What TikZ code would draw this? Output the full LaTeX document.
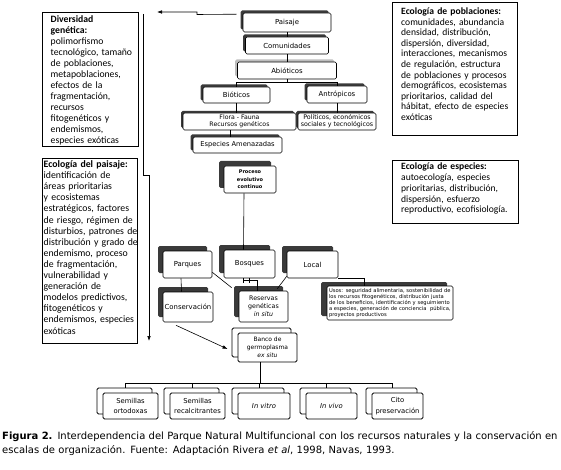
\documentclass[tikz,border=0pt]{standalone}
\usepackage{fontspec}
\newfontfamily\djvfont{DejaVu Sans}
\newfontfamily\carfont{Carlito}
\usetikzlibrary{shadows,arrows.meta,calc}
\definecolor{shd}{HTML}{3A3A3A}
\definecolor{lshd}{HTML}{BDBDBD}
\begin{document}
\begin{tikzpicture}[x=1pt,y=-1pt,
  nb/.style={draw=black, fill=white, rounded corners=1.5pt, line width=0.6pt, inner sep=0pt, align=center},
  sh/.style={drop shadow={shadow xshift=-#1, shadow yshift=#1, fill=shd, opacity=1}},
  lsh/.style={drop shadow={shadow xshift=-#1, shadow yshift=#1, fill=lshd, opacity=1}},
  cs/.style={copy shadow={shadow xshift=-6pt, shadow yshift=5pt}},
  ta/.style={font=\djvfont\fontsize{6.9}{8}\selectfont},
  tb/.style={font=\djvfont\fontsize{6.9}{8}\selectfont},
  tc/.style={font=\djvfont\fontsize{6.8}{10.5}\selectfont},
  panel/.style={draw=black, line width=0.8pt, inner sep=0pt, anchor=north west},
  ptxt/.style={inner sep=0pt, anchor=north west, align=left, text width=140pt},
  conn/.style={draw=black, line width=0.6pt},
  tree/.style={draw=black, line width=1pt},
  arr/.style={-{Latex[length=5pt,width=3.6pt]}}
]
\useasboundingbox (0,0) rectangle (561,470);
\fill[white] (0,0) rectangle (561,470);

% ---------- side panels ----------
\node[panel, minimum width=96pt, minimum height=134pt] (div) at (42,12) {};
\node[ptxt, font=\carfont\fontsize{9.7}{11}\selectfont] (divt) at (50.5,15)
 {\textbf{Diversidad\\genética:}\\polimorfismo\\tecnológico, tamaño\\de poblaciones,\\metapoblaciones,\\efectos de la\\fragmentación,\\recursos\\fitogenéticos y\\endemismos,\\especies exóticas};

\node[panel, minimum width=95pt, minimum height=185pt] (pai) at (42,158) {};
\node[ptxt, font=\carfont\fontsize{9.8}{11.1}\selectfont] (pait) at (43.5,160.5)
 {\textbf{Ecología del paisaje:}\\identificación de\\áreas prioritarias\\y ecosistemas\\estratégicos, factores\\de riesgo, régimen de\\disturbios, patrones de\\distribución y grado de\\endemismo, proceso\\de fragmentación,\\vulnerabilidad y\\generación de\\modelos predictivos,\\fitogenéticos y\\endemismos, especies\\exóticas};

\node[panel, minimum width=125pt, minimum height=133pt] (pob) at (392,2) {};
\node[ptxt, font=\carfont\fontsize{9.6}{10.6}\selectfont] (pobt) at (401,7.5)
 {\textbf{Ecología de poblaciones:}\\comunidades, abundancia\\densidad, distribución,\\dispersión, diversidad,\\interacciones, mecanismos\\de regulación, estructura\\de poblaciones y procesos\\demográficos, ecosistemas\\prioritarios, calidad del\\hábitat, efecto de especies\\exóticas};

\node[panel, minimum width=126pt, minimum height=63pt] (esq) at (392,160) {};
\node[ptxt, font=\carfont\fontsize{9.6}{10.75}\selectfont] (esqt) at (401,163)
 {\textbf{Ecología de especies:}\\autoecología, especies\\prioritarias, distribución,\\dispersión, esfuerzo\\reproductivo, ecofisiología.};

% ---------- top chain ----------
\node[nb, sh=2.5pt, ta, minimum width=88pt, minimum height=19pt] (pais) at (287,22.5) {Paisaje};
\node[nb, sh=2.5pt, ta, minimum width=83pt, minimum height=17pt] (com) at (287,45.5) {Comunidades};
\node[nb, lsh=2.5pt, ta, minimum width=99pt, minimum height=17pt] (abio) at (287,70.5) {Abióticos};
\node[nb, sh=2.5pt, ta, minimum width=67pt, minimum height=16pt] (bio) at (236.5,95) {Bióticos};
\node[nb, sh=2.5pt, ta, minimum width=60pt, minimum height=17pt] (antr) at (337,94.5) {Antrópicos};
\node[nb, sh=2pt, font=\djvfont\fontsize{6.2}{7}\selectfont, minimum width=113pt, minimum height=17pt] (flora) at (239.5,121.5) {Flora - Fauna\\Recursos genéticos};
\node[nb, sh=2pt, font=\djvfont\fontsize{6.3}{7}\selectfont, minimum width=78pt, minimum height=17pt] (pol) at (337,121.5) {Políticos, económicos\\sociales y tecnológicos};
\node[nb, sh=2.5pt, font=\djvfont\fontsize{6.7}{8}\selectfont, minimum width=89pt, minimum height=16pt] (esp) at (237.5,145) {Especies Amenazadas};

\draw[conn] (pais.south) -- (com.north);
\draw[conn] (com.south) -- (abio.north);
\draw[conn] (abio.south) -- ++(0,3.5) -| (bio.north);
\draw[conn] (abio.south) ++(0,3.5) -| (antr.north);
\draw[conn] (bio.south) -- (bio.south |- flora.north);
\draw[conn] (antr.south) -- (pol.north);
\draw[conn] ([xshift=-7pt]esp.north |- flora.south) -- ([xshift=-7pt]esp.north);

% top arrow and left arrow
\coordinate (ta0) at ([xshift=-6pt,yshift=-1.5pt]pais.north west);
\coordinate (ta1) at (157,12);
\draw[conn, arr] (ta0) -- (197,14.5) -- (197,12) -- (ta1);
\coordinate (la0) at (143,14);
\coordinate (la1) at (149,341);
\draw[conn, arr] (la0) -- (143,175) -- (149,175) -- (la1);

% ---------- middle ----------
\node[nb, sh=5pt, font=\djvfont\bfseries\fontsize{5}{7.5}\selectfont, minimum width=52pt, minimum height=27pt] (proc) at (250,179.5) {Proceso\\evolutivo\\continuo};
\node[nb, sh=5pt, tb, minimum width=49pt, minimum height=27pt] (parq) at (187.5,264.5) {Parques};
\node[nb, sh=5pt, tb, minimum width=51pt, minimum height=28pt] (bosq) at (249.5,264) {Bosques};
\node[nb, sh=5pt, tb, minimum width=51pt, minimum height=27pt] (local) at (312.5,264.5) {Local};
\node[nb, sh=5pt, tb, minimum width=50pt, minimum height=30pt] (cons) at (188,307) {Conservación};
\node[nb, sh=5pt, font=\djvfont\fontsize{6.3}{8}\selectfont, minimum width=49pt, minimum height=31pt] (res) at (263.5,306.5) {Reservas\\genéticas\\\textit{in situ}};
\node[nb, drop shadow={shadow xshift=-6pt, shadow yshift=4pt, fill=shd, opacity=1}, minimum width=126pt, minimum height=34pt, text width=122pt, align=left, font=\djvfont\fontsize{5.2}{6}\selectfont] (usos) at (390,303)
 {Usos: seguridad alimentaria, sostenibilidad de\\los recursos fitogenéticos, distribución justa\\de los beneficios, identificación y seguimiento\\a especies, generación de conciencia\ \ pública,\\proyectos productivos};

\draw[conn] ([xshift=-6pt]proc.south) -- ([xshift=-6pt]bosq.north);
\draw[conn] ([xshift=-6.5pt]parq.south) -- ([xshift=-6.5pt]cons.north);
\draw[conn] ([yshift=6pt]parq.south east) -- ([xshift=-7pt,yshift=3pt]res.north west);
\draw[conn] ([xshift=-6pt]bosq.south) -- ++(0,5);
\draw[conn] ([xshift=0pt]bosq.south) -- ++(0,5);
\draw[conn] ([xshift=-6pt,yshift=-2pt]bosq.south) -| ([xshift=-6pt]res.north);
\draw[conn] ([yshift=2pt]local.south west) -- ([xshift=-11pt,yshift=2pt]res.north east);
\draw[conn] (local.south east) -| ([xshift=-26pt]usos.north);

% ---------- ex situ ----------
\node[nb, cs, font=\djvfont\fontsize{6}{8}\selectfont, line width=0.9pt, minimum width=59pt, minimum height=29pt] (banco) at (267.5,347.5) {Banco de\\germoplasma\\\textit{ex situ}};
\draw[conn, arr] ([xshift=-12pt,yshift=-3pt]cons.south) -- ([xshift=-10pt,yshift=-1.5pt]banco.west);

\node[nb, cs, tc, line width=0.9pt, minimum width=55pt, minimum height=26pt] (b1) at (130.5,406) {Semillas\\ortodoxas};
\node[nb, cs, tc, line width=0.9pt, minimum width=55pt, minimum height=26pt] (b2) at (197.5,406) {Semillas\\recalcitrantes};
\node[nb, cs, tc, line width=0.9pt, minimum width=52pt, minimum height=26pt] (b3) at (264,406) {\textit{In vitro}};
\node[nb, cs, tc, line width=0.9pt, minimum width=51pt, minimum height=26pt] (b4) at (331.5,406) {\textit{In vivo}};
\node[nb, cs, tc, line width=0.9pt, minimum width=51pt, minimum height=26pt] (b5) at (397.5,406) {Cito\\preservación};

\coordinate (fork) at ([xshift=-7pt]banco.south |- 0,383);
\draw[tree, line width=1.3pt] ([xshift=-7pt]banco.south) -- (fork);
\foreach \b in {b1,b2,b3,b4,b5}{
  \draw[tree] (fork) -| ([xshift=-5pt,yshift=5pt]\b.north);
}

% ---------- caption ----------
\node[inner sep=0pt, anchor=north west, align=left, text width=600pt, font=\djvfont\fontsize{10}{14}\selectfont] (cap) at (2,431.5)
 {\textbf{Figura 2.} Interdependencia del Parque Natural Multifuncional con los recursos naturales y la conservación en\\escalas de organización. Fuente: Adaptación Rivera \textit{et al}, 1998, Navas, 1993.};
\end{tikzpicture}
\end{document}
